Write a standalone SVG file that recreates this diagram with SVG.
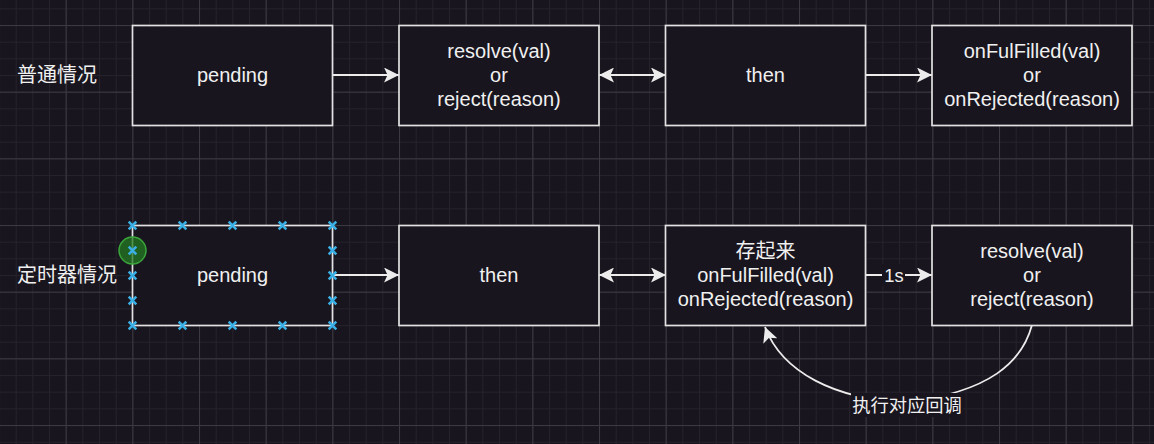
<svg xmlns="http://www.w3.org/2000/svg" width="1154" height="444" viewBox="0 0 1154 444">
<style>
.box{fill:#18151e;stroke:#e2e2e2;stroke-width:1.7}
.t{font-family:"Liberation Sans","Noto Sans CJK SC",sans-serif;font-size:20px;fill:#f0f0f0;text-anchor:middle}
.lbl{font-family:"Liberation Sans","Noto Sans CJK SC",sans-serif;font-size:18.3px;fill:#f0f0f0;text-anchor:middle}
.side{font-family:"Noto Sans CJK SC","Liberation Sans",sans-serif;font-size:20px;fill:#f0f0f0}
.edge{fill:none;stroke:#ececec;stroke-width:1.8}
.lblbg{fill:#18151e}
.hx{stroke:#3ab0e6;stroke-width:2.6;fill:none}
</style>
<defs>
<pattern id="minor" patternUnits="userSpaceOnUse" x="-1" y="25" width="16.6667" height="16.6667">
<rect x="0" y="0" width="16.6667" height="1" fill="#25222b"/>
<rect x="0" y="0" width="1" height="16.6667" fill="#25222b"/>
</pattern>
<pattern id="major" patternUnits="userSpaceOnUse" x="-1" y="25" width="66.6667" height="66.6667">
<rect x="0" y="0" width="66.6667" height="1" fill="#3b3941"/>
<rect x="0" y="0" width="1" height="66.6667" fill="#3b3941"/>
</pattern>
<marker id="arr" markerUnits="userSpaceOnUse" viewBox="0 0 15 15" markerWidth="15" markerHeight="15" refX="15" refY="7.5" orient="auto-start-reverse">
<path d="M0,0 L15,7.5 L0,15 L3.5,7.5 Z" fill="#ececec"/>
</marker>
<path id="x" d="M-3.8,-3.8 L3.8,3.8 M3.8,-3.8 L-3.8,3.8"/>
</defs>

<rect width="1154" height="444" fill="#18151e"/>
<rect width="1154" height="444" fill="url(#minor)"/>
<rect width="1154" height="444" fill="url(#major)"/>

<g id="label-normal"><text class="side" x="17" y="82">普通情况</text></g>
<g id="label-timer"><text class="side" x="17" y="282">定时器情况</text></g>

<g id="connectors">
<path class="edge" d="M332,75 H399" marker-end="url(#arr)"/>
<path class="edge" d="M599,75 H666" marker-start="url(#arr)" marker-end="url(#arr)"/>
<path class="edge" d="M866,75 H932" marker-end="url(#arr)"/>
<path class="edge" d="M332,275 H399" marker-end="url(#arr)"/>
<path class="edge" d="M599,275 H666" marker-start="url(#arr)" marker-end="url(#arr)"/>
<path class="edge" d="M866,275 H932" marker-end="url(#arr)"/>
<rect class="lblbg" x="882" y="264" width="23" height="22"/>
<text class="lbl" x="894" y="281.5">1s</text>
<path class="edge" d="M1032,325 C1022,362 990,392 907,402 C835,400 782,372 765,327" marker-end="url(#arr)"/>
<rect class="lblbg" x="851" y="393" width="112" height="24"/>
<text class="lbl" x="907" y="412">执行对应回调</text>
</g>

<g id="n-pending1"><rect class="box" x="132.5" y="25.5" width="200" height="100"/><text class="t" x="232.5" y="82">pending</text></g>
<g id="n-resolve1"><rect class="box" x="399" y="25.5" width="200" height="100"/><text class="t" x="499" y="58">resolve(val)</text><text class="t" x="499" y="82">or</text><text class="t" x="499" y="106">reject(reason)</text></g>
<g id="n-then1"><rect class="box" x="665.5" y="25.5" width="200" height="100"/><text class="t" x="765.5" y="82">then</text></g>
<g id="n-onful1"><rect class="box" x="932" y="25.5" width="200" height="100"/><text class="t" x="1032" y="58">onFulFilled(val)</text><text class="t" x="1032" y="82">or</text><text class="t" x="1032" y="106">onRejected(reason)</text></g>

<g id="n-pending2"><rect class="box" x="132.5" y="225.5" width="200" height="100"/><text class="t" x="232.5" y="282">pending</text></g>
<g id="n-then2"><rect class="box" x="399" y="225.5" width="200" height="100"/><text class="t" x="499" y="282">then</text></g>
<g id="n-store"><rect class="box" x="665.5" y="225.5" width="200" height="100"/><text class="t" x="765.5" y="258">存起来</text><text class="t" x="765.5" y="282">onFulFilled(val)</text><text class="t" x="765.5" y="306">onRejected(reason)</text></g>
<g id="n-resolve2"><rect class="box" x="932" y="225.5" width="200" height="100"/><text class="t" x="1032" y="258">resolve(val)</text><text class="t" x="1032" y="282">or</text><text class="t" x="1032" y="306">reject(reason)</text></g>

<g id="selection">
<circle cx="132.5" cy="250.5" r="13.5" fill="#237a23" fill-opacity="0.75" stroke="#3aa53a" stroke-width="1.5"/>
<g class="hx">
<use href="#x" x="132.5" y="225.5"/><use href="#x" x="182.5" y="225.5"/><use href="#x" x="232.5" y="225.5"/><use href="#x" x="282.5" y="225.5"/><use href="#x" x="332.5" y="225.5"/>
<use href="#x" x="132.5" y="325.5"/><use href="#x" x="182.5" y="325.5"/><use href="#x" x="232.5" y="325.5"/><use href="#x" x="282.5" y="325.5"/><use href="#x" x="332.5" y="325.5"/>
<use href="#x" x="132.5" y="250.5"/><use href="#x" x="132.5" y="275.5"/><use href="#x" x="132.5" y="300.5"/>
<use href="#x" x="332.5" y="250.5"/><use href="#x" x="332.5" y="275.5"/><use href="#x" x="332.5" y="300.5"/>
</g>
</g>
</svg>
